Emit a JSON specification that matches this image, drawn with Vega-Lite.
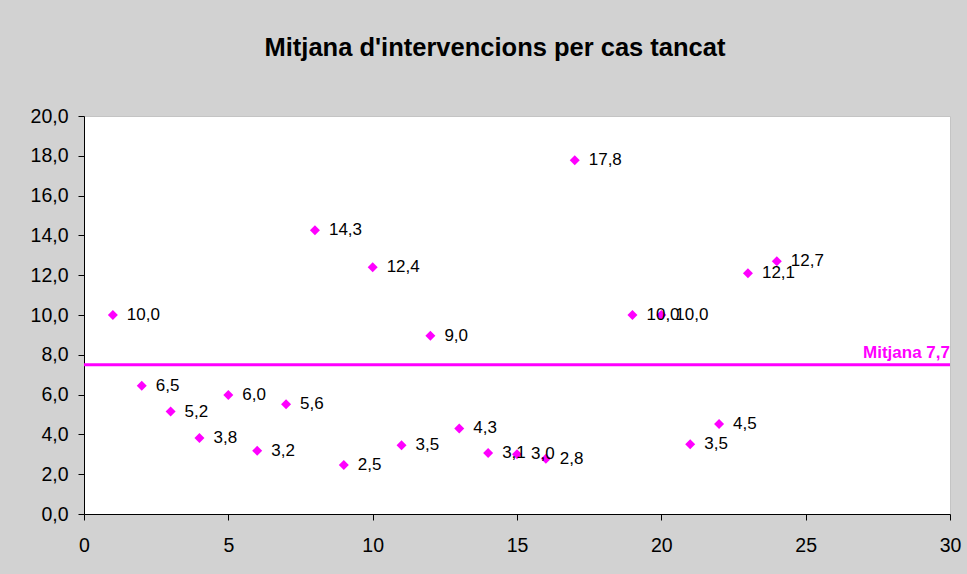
{
  "$schema": "https://vega.github.io/schema/vega-lite/v6.json",
  "width": 866,
  "height": 398,
  "autosize": {"type": "none"},
  "padding": {"left": 84, "top": 116, "right": 17, "bottom": 60},
  "background": "#d2d2d2",
  "title": {
    "text": "Mitjana d'intervencions per cas tancat",
    "font": "Liberation Sans",
    "fontSize": 25.5,
    "fontWeight": "bold",
    "color": "#000000",
    "anchor": "middle",
    "dx": -22,
    "offset": 45
  },
  "config": {
    "font": "Liberation Sans",
    "view": {"fill": "#ffffff", "stroke": "#c4c4c4", "strokeWidth": 1},
    "axis": {"labelOverlap": false, "labelFlush": false, "grid": false, "labelBound": false}
  },
  "datasets": {
    "pts": [
      {"x": 1, "y": 10.0, "label": "10,0"},
      {"x": 2, "y": 6.45, "label": "6,5"},
      {"x": 3, "y": 5.15, "label": "5,2"},
      {"x": 4, "y": 3.82, "label": "3,8"},
      {"x": 5, "y": 5.98, "label": "6,0"},
      {"x": 6, "y": 3.18, "label": "3,2"},
      {"x": 7, "y": 5.52, "label": "5,6"},
      {"x": 8, "y": 14.26, "label": "14,3"},
      {"x": 9, "y": 2.46, "label": "2,5"},
      {"x": 10, "y": 12.4, "label": "12,4"},
      {"x": 11, "y": 3.46, "label": "3,5"},
      {"x": 12, "y": 8.96, "label": "9,0"},
      {"x": 13, "y": 4.3, "label": "4,3"},
      {"x": 14, "y": 3.06, "label": "3,1"},
      {"x": 15, "y": 3.0, "label": "3,0"},
      {"x": 16, "y": 2.78, "label": "2,8"},
      {"x": 17, "y": 17.78, "label": "17,8"},
      {"x": 19, "y": 10.0, "label": "10,0"},
      {"x": 20, "y": 10.0, "label": "10,0"},
      {"x": 21, "y": 3.5, "label": "3,5"},
      {"x": 22, "y": 4.52, "label": "4,5"},
      {"x": 23, "y": 12.1, "label": "12,1"},
      {"x": 24, "y": 12.7, "label": "12,7"}
    ],
    "mean": [{"x": 30, "y": 7.5, "label": "Mitjana 7,7"}]
  },
  "layer": [
    {
      "data": {"name": "pts"},
      "mark": {"type": "point", "shape": "diamond", "filled": true, "color": "#ff00ff", "size": 100, "opacity": 1},
      "encoding": {
        "x": {
          "field": "x", "type": "quantitative",
          "scale": {"domain": [0, 30], "nice": false, "zero": true},
          "axis": {
            "title": null, "values": [0, 5, 10, 15, 20, 25, 30], "tickCount": 7, "grid": false,
            "domainColor": "#000000", "tickColor": "#000000", "tickSize": 6,
            "labelFontSize": 19.5, "labelColor": "#000000", "labelPadding": 16,
            "labelFont": "Liberation Sans", "labelFlush": false, "labelOverlap": false
          }
        },
        "y": {
          "field": "y", "type": "quantitative",
          "scale": {"domain": [0, 20], "nice": false},
          "axis": {
            "title": null, "values": [0, 2, 4, 6, 8, 10, 12, 14, 16, 18, 20], "tickCount": 11, "grid": false,
            "domainColor": "#000000", "tickColor": "#000000", "tickSize": 6,
            "labelFontSize": 19.5, "labelColor": "#000000", "labelPadding": 10,
            "labelFont": "Liberation Sans", "labelOverlap": false, "labelFlush": false,
            "labelExpr": "replace(format(datum.value, '.1f'), '.', ',')"
          }
        }
      }
    },
    {
      "data": {"name": "pts"},
      "mark": {"type": "text", "align": "left", "baseline": "middle", "dx": 14, "fontSize": 17, "color": "#000000", "font": "Liberation Sans"},
      "encoding": {
        "x": {
          "field": "x", "type": "quantitative",
          "scale": {"domain": [0, 30], "nice": false, "zero": true},
          "axis": {
            "title": null, "values": [0, 5, 10, 15, 20, 25, 30], "tickCount": 7, "grid": false,
            "domainColor": "#000000", "tickColor": "#000000", "tickSize": 6,
            "labelFontSize": 19.5, "labelColor": "#000000", "labelPadding": 16,
            "labelFont": "Liberation Sans", "labelFlush": false, "labelOverlap": false
          }
        },
        "y": {
          "field": "y", "type": "quantitative",
          "scale": {"domain": [0, 20], "nice": false},
          "axis": {
            "title": null, "values": [0, 2, 4, 6, 8, 10, 12, 14, 16, 18, 20], "tickCount": 11, "grid": false,
            "domainColor": "#000000", "tickColor": "#000000", "tickSize": 6,
            "labelFontSize": 19.5, "labelColor": "#000000", "labelPadding": 10,
            "labelFont": "Liberation Sans", "labelOverlap": false, "labelFlush": false,
            "labelExpr": "replace(format(datum.value, '.1f'), '.', ',')"
          }
        },
        "text": {"field": "label"}
      }
    },
    {
      "data": {"name": "mean"},
      "mark": {"type": "rule", "color": "#ff00ff", "strokeWidth": 3},
      "encoding": {
        "y": {
          "field": "y", "type": "quantitative",
          "scale": {"domain": [0, 20], "nice": false},
          "axis": {
            "title": null, "values": [0, 2, 4, 6, 8, 10, 12, 14, 16, 18, 20], "tickCount": 11, "grid": false,
            "domainColor": "#000000", "tickColor": "#000000", "tickSize": 6,
            "labelFontSize": 19.5, "labelColor": "#000000", "labelPadding": 10,
            "labelFont": "Liberation Sans", "labelOverlap": false, "labelFlush": false,
            "labelExpr": "replace(format(datum.value, '.1f'), '.', ',')"
          }
        }
      }
    },
    {
      "data": {"name": "mean"},
      "mark": {"type": "text", "align": "right", "baseline": "bottom", "dy": -3, "fontSize": 17, "fontWeight": "bold", "color": "#ff00ff", "font": "Liberation Sans"},
      "encoding": {
        "x": {
          "field": "x", "type": "quantitative",
          "scale": {"domain": [0, 30], "nice": false, "zero": true},
          "axis": {
            "title": null, "values": [0, 5, 10, 15, 20, 25, 30], "tickCount": 7, "grid": false,
            "domainColor": "#000000", "tickColor": "#000000", "tickSize": 6,
            "labelFontSize": 19.5, "labelColor": "#000000", "labelPadding": 16,
            "labelFont": "Liberation Sans", "labelFlush": false, "labelOverlap": false
          }
        },
        "y": {
          "field": "y", "type": "quantitative",
          "scale": {"domain": [0, 20], "nice": false},
          "axis": {
            "title": null, "values": [0, 2, 4, 6, 8, 10, 12, 14, 16, 18, 20], "tickCount": 11, "grid": false,
            "domainColor": "#000000", "tickColor": "#000000", "tickSize": 6,
            "labelFontSize": 19.5, "labelColor": "#000000", "labelPadding": 10,
            "labelFont": "Liberation Sans", "labelOverlap": false, "labelFlush": false,
            "labelExpr": "replace(format(datum.value, '.1f'), '.', ',')"
          }
        },
        "text": {"field": "label"}
      }
    }
  ]
}
